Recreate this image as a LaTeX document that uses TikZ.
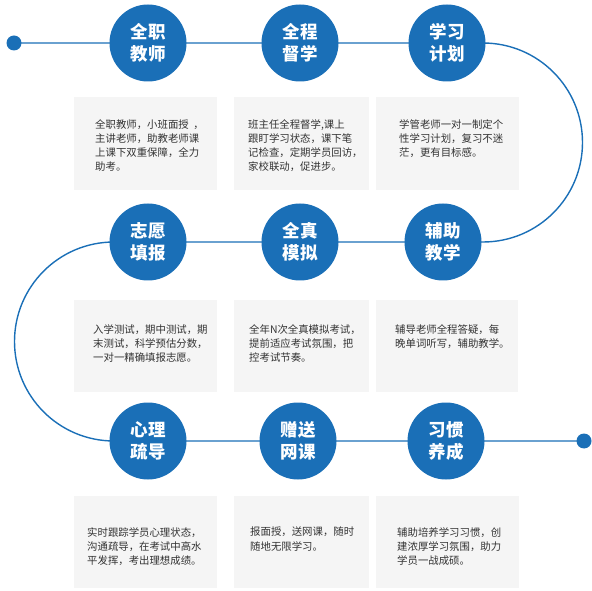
\documentclass[tikz,border=0pt]{standalone}
\usepackage{fontspec}
\setmainfont{Noto Sans CJK SC}
\usetikzlibrary{calc}
\definecolor{mainblue}{RGB}{26,111,183}
\definecolor{boxgray}{RGB}{245,245,245}
\definecolor{txtgray}{RGB}{51,51,51}
\begin{document}
\begin{tikzpicture}[x=1pt,y=1pt,
  stepcircle/.style={circle,fill=mainblue,minimum size=77pt,inner sep=0pt,text=white,
    font=\fontsize{17.5}{22}\selectfont\bfseries,align=center},
  infobox/.style={fill=boxgray,draw=none,inner sep=0pt,anchor=north west},
  infotext/.style={anchor=north west,inner sep=0pt,align=left,text=txtgray,
    font=\fontsize{10.4}{14.2}\selectfont},
  enddot/.style={circle,fill=mainblue,minimum size=15pt,inner sep=0pt},
  flow/.style={draw=mainblue,line width=1.4pt}]
\useasboundingbox (0,0) rectangle (592,590);
% boxes
\node[infobox,minimum width=143pt,minimum height=93pt] (b11) at (74,493) {};
\node[infobox,minimum width=135pt,minimum height=93pt] (b12) at (234,493) {};
\node[infobox,minimum width=143pt,minimum height=93pt] (b13) at (376,493) {};
\node[infobox,minimum width=143pt,minimum height=92pt] (b21) at (74,290) {};
\node[infobox,minimum width=135pt,minimum height=92pt] (b22) at (234,290) {};
\node[infobox,minimum width=142pt,minimum height=92pt] (b23) at (376,290) {};
\node[infobox,minimum width=143pt,minimum height=92pt] (b31) at (74,94) {};
\node[infobox,minimum width=135pt,minimum height=92pt] (b32) at (234,94) {};
\node[infobox,minimum width=143pt,minimum height=92pt] (b33) at (376,94) {};
% texts
\node[infotext] (t11) at (95,471) {全职教师，小班面授\ \ ，\\主讲老师，助教老师课\\上课下双重保障，全力\\助考。};
\node[infotext] (t12) at (248,471) {班主任全程督学,课上\\跟盯学习状态，课下笔\\记检查，定期学员回访，\\家校联动，促进步。};
\node[infotext] (t13) at (399,471) {学管老师一对一制定个\\性学习计划，复习不迷\\茫，更有目标感。};
\node[infotext] (t21) at (93,266) {入学测试，期中测试，期\\末测试，科学预估分数，\\一对一精确填报志愿。};
\node[infotext] (t22) at (249,266) {全年N次全真模拟考试，\\提前适应考试氛围，把\\控考试节奏。};
\node[infotext] (t23) at (395,266) {辅导老师全程答疑，每\\晚单词听写，辅助教学。};
\node[infotext] (t31) at (87,63) {实时跟踪学员心理状态，\\沟通疏导，在考试中高水\\平发挥，考出理想成绩。};
\node[infotext] (t32) at (250,63) {报面授，送网课，随时\\随地无限学习。};
\node[infotext] (t33) at (397,63) {辅助培养学习习惯，创\\建浓厚学习氛围，助力\\学员一战成硕。};
% flow line
\node[enddot] (dl) at (14,547) {};
\node[enddot] (dr) at (584,149) {};
\coordinate (a1) at (483,547);
\coordinate (a2) at (114,348);
\draw[flow] (dl.center) -- (a1) arc[start angle=90,end angle=-90,radius=99.5]
  -- (a2) arc[start angle=90,end angle=270,radius=99.5] -- (dr.center);
% circles
\node[stepcircle] (c11) at (148,547) {全职\\教师};
\node[stepcircle] (c12) at (300,547) {全程\\督学};
\node[stepcircle] (c13) at (447,547) {学习\\计划};
\node[stepcircle] (c21) at (148,348) {志愿\\填报};
\node[stepcircle] (c22) at (300,348) {全真\\模拟};
\node[stepcircle] (c23) at (443,348) {辅助\\教学};
\node[stepcircle] (c31) at (148,149) {心理\\疏导};
\node[stepcircle] (c32) at (298,149) {赠送\\网课};
\node[stepcircle] (c33) at (446,149) {习惯\\养成};
\end{tikzpicture}
\end{document}
